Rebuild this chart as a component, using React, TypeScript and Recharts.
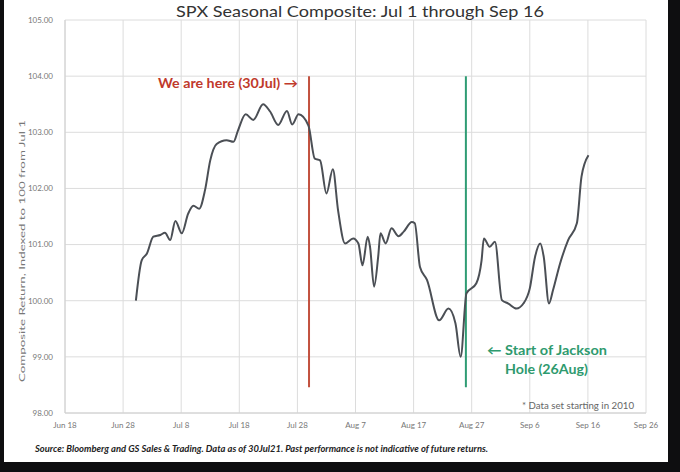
import { CartesianGrid, Line, LineChart, ReferenceLine, XAxis, YAxis } from 'recharts';

// days since Jun 18 (x) and composite value (y)
const days = [
  12.2, 13.2, 14.1, 15.2, 16.4, 17.2, 18.1, 19.0, 20.1, 21.2, 22.1, 23.1, 24.1, 25.0, 26.1,
  27.8, 29.0, 29.8, 31.1, 32.4, 34.1, 35.3, 36.7, 38.2, 39.1, 40.2, 41.9, 43.0, 43.9, 45.0,
  46.1, 47.0, 48.2, 49.6, 50.5, 51.2, 52.1, 52.5, 53.2, 53.9, 54.3, 55.2, 56.2, 57.4, 58.3,
  59.7, 60.2, 61.1, 62.3, 64.4, 66.0, 67.2, 68.1, 69.1, 70.8, 71.7, 72.1, 73.1, 74.0,
  75.2, 76.3, 77.7, 78.9, 80.0, 80.9, 81.8, 82.4, 83.3, 84.0, 85.2, 86.6, 88.1, 88.9, 90.1,
];
const composite = [
  100.0, 100.72, 100.84, 101.14, 101.17, 101.21, 101.08, 101.42, 101.2, 101.55, 101.69, 101.64,
  101.97, 102.5, 102.79, 102.86, 102.83, 103.04, 103.32, 103.22, 103.5, 103.37, 103.13, 103.38,
  103.14, 103.32, 103.12, 102.53, 102.5, 101.91, 102.34, 101.61, 101.02, 101.11, 101.02, 100.63,
  101.14, 100.96, 100.25, 100.78, 101.2, 101.02, 101.29, 101.15, 101.23, 101.4, 101.38, 100.6,
  100.37, 99.65, 99.86, 99.6, 99.0, 100.13, 100.31, 100.72, 101.11, 100.96, 101.05,
  100.01, 99.95, 99.86, 99.95, 100.22, 100.78, 101.02, 100.78, 99.95, 100.19, 100.66, 101.08,
  101.38, 102.21, 102.59,
];

const xTicks = [0, 10, 20, 30, 40, 50, 60, 70, 80, 90, 100];
const xTickLabels = ['Jun 18', 'Jun 28', 'Jul 8', 'Jul 18', 'Jul 28', 'Aug 7', 'Aug 17', 'Aug 27', 'Sep 6', 'Sep 16', 'Sep 26'];
const yTicks = [98, 99, 100, 101, 102, 103, 104, 105];

const weAreHere = 42; // 30 Jul
const jacksonHole = 69; // 26 Aug

const data = days.map((d, i) => ({ day: d, value: composite[i] }));

const font = 'Lato, "Open Sans", sans-serif';

export default function App() {
  return (
    <div style={{ position: 'absolute', left: 0, top: 0, width: 680, height: 472, background: '#0e0e10', fontFamily: font }}>
      <div style={{ position: 'absolute', left: 4, top: 0, width: 664, height: 462, background: '#fff' }} />
      <div style={{ position: 'absolute', left: 0, top: 0 }}>
        <LineChart width={680} height={472} data={data} margin={{ top: 20, right: 34, left: 5, bottom: 29 }}>
          <CartesianGrid stroke="#dcdcdc" strokeWidth={1} />
          <XAxis
            type="number"
            dataKey="day"
            domain={[0, 100]}
            ticks={xTicks}
            tickFormatter={(v: number) => xTickLabels[xTicks.indexOf(v)] ?? ''}
            height={30}
            tickLine={false}
            axisLine={{ stroke: '#d0d0d0' }}
            tick={{ fontSize: 8, fill: '#777', fontFamily: font }}
            tickMargin={3}
            interval={0}
          />
          <YAxis
            type="number"
            domain={[98, 105]}
            ticks={yTicks}
            width={60}
            tickFormatter={(v: number) => v.toFixed(2)}
            tickLine={false}
            axisLine={{ stroke: '#d0d0d0' }}
            tick={{ fontSize: 8, fill: '#777', fontFamily: font }}
            tickMargin={6}
            interval={0}
          />
          <ReferenceLine
            segment={[{ x: weAreHere, y: 98.46 }, { x: weAreHere, y: 104 }]}
            stroke="#c2513f"
            strokeWidth={2}
          />
          <ReferenceLine
            segment={[{ x: jacksonHole, y: 98.46 }, { x: jacksonHole, y: 104 }]}
            stroke="#2f9c74"
            strokeWidth={2}
          />
          <Line
            type="monotone"
            dataKey="value"
            stroke="#4b4f55"
            strokeWidth={2}
            dot={false}
            isAnimationActive={false}
          />
        </LineChart>
      </div>
      <svg width={680} height={472} style={{ position: 'absolute', left: 0, top: 0, pointerEvents: 'none' }}>
        <text x={176} y={17} fontSize={16} fill="#333" textLength={368} lengthAdjust="spacingAndGlyphs" fontFamily={font}>
          SPX Seasonal Composite: Jul 1 through Sep 16
        </text>
        <text
          x={25}
          y={251}
          fontSize={8}
          fill="#777"
          textAnchor="middle"
          transform="rotate(-90 25 251)"
          textLength={262}
          lengthAdjust="spacingAndGlyphs"
          fontFamily={font}
        >
          Composite Return, Indexed to 100 from Jul 1
        </text>
        <text x={158} y={88} fontSize={13} fontWeight={700} fill="#c0392b" textLength={140} lengthAdjust="spacingAndGlyphs" fontFamily={font}>
          We are here (30Jul) →
        </text>
        <text x={487} y={355} fontSize={13} fontWeight={700} fill="#2e9a6e" textLength={120} lengthAdjust="spacingAndGlyphs" fontFamily={font}>
          ← Start of Jackson
        </text>
        <text x={505} y={374} fontSize={13} fontWeight={700} fill="#2e9a6e" textLength={83} lengthAdjust="spacingAndGlyphs" fontFamily={font}>
          Hole (26Aug)
        </text>
        <text x={522} y={409} fontSize={9} fill="#666" textLength={112} lengthAdjust="spacingAndGlyphs" fontFamily={font}>
          * Data set starting in 2010
        </text>
        <text
          x={35}
          y={452}
          fontSize={9}
          fontWeight={700}
          fontStyle="italic"
          fill="#222"
          textLength={453}
          lengthAdjust="spacingAndGlyphs"
          fontFamily={font}
        >
          Source: Bloomberg and GS Sales &amp; Trading. Data as of 30Jul21. Past performance  is not indicative of future returns.
        </text>
      </svg>
    </div>
  );
}
